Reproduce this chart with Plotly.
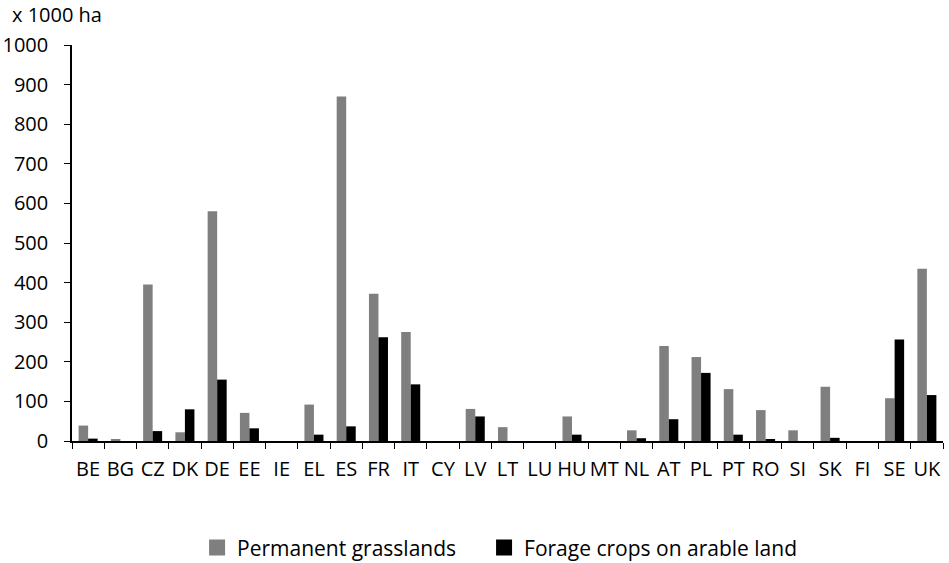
import plotly.graph_objects as go

countries = ["BE", "BG", "CZ", "DK", "DE", "EE", "IE", "EL", "ES", "FR", "IT", "CY", "LV", "LT",
             "LU", "HU", "MT", "NL", "AT", "PL", "PT", "RO", "SI", "SK", "FI", "SE", "UK"]
permanent_grasslands = [39, 4, 395, 22, 580, 71, 0, 92, 870, 372, 275, 0, 81, 35,
                        0, 62, 0, 27, 240, 212, 131, 78, 27, 137, 0, 108, 435]
forage_crops = [6, 0, 25, 80, 155, 32, 0, 16, 37, 262, 143, 0, 62, 0,
                0, 16, 0, 7, 55, 172, 16, 4, 0, 8, 0, 256, 116]
y_ticks = list(range(0, 1001, 100))

series_names = ["Permanent grasslands", "Forage crops on arable land"]
series_colors = ["#7f7f7f", "#000000"]
legend_ids = ["legend", "legend2"]

font_family = "Open Sans, Lato, sans-serif"

fig = go.Figure()
for name, vals, col in zip(series_names, [permanent_grasslands, forage_crops], series_colors):
    fig.add_trace(go.Bar(x=countries, y=vals, name=name, showlegend=False,
                         marker=dict(color=col, line=dict(width=0))))
# legend entries with larger square swatches
for name, col, lg in zip(series_names, series_colors, legend_ids):
    fig.add_trace(go.Scatter(x=[None], y=[None], mode="markers", name=name, legend=lg,
                             marker=dict(symbol="square", size=17, color=col)))

legend_style = dict(orientation="h", xanchor="left", y=-0.27, yanchor="middle",
                    font=dict(size=21), itemwidth=30, bgcolor="rgba(0,0,0,0)")

fig.update_layout(
    width=949, height=563,
    margin=dict(l=72, r=6, t=45, b=122, autoexpand=False),
    paper_bgcolor="white", plot_bgcolor="white",
    barmode="group", bargap=0.41, bargroupgap=0,
    font=dict(family=font_family, size=20, color="black"),
    showlegend=True,
    legend=dict(x=0.1436, **legend_style),
    legend2=dict(x=0.4731, **legend_style),
    xaxis=dict(showline=True, linecolor="black", linewidth=1.5, ticks="outside",
               tickson="boundaries", ticklen=6, tickcolor="black", showgrid=False,
               tickangle=0, automargin=False, tickfont=dict(size=20),
               ticklabelstandoff=9),
    yaxis=dict(range=[0, 1000], tickvals=y_ticks, showline=True, linecolor="black",
               linewidth=1.5, ticks="outside", ticklen=6, tickcolor="black",
               showgrid=False, zeroline=False, automargin=False, tickfont=dict(size=20),
               ticklabelstandoff=12),
    annotations=[dict(text="x 1000 ha", xref="paper", yref="paper", x=-0.0712, y=1.0758,
                      xanchor="left", yanchor="middle", showarrow=False,
                      font=dict(size=20))],
)

# remove the default page margin so the figure fills the window exactly
fig.write_html("out.html", config={"displayModeBar": False},
               post_script="document.body.style.margin='0';document.body.style.overflow='hidden';")
